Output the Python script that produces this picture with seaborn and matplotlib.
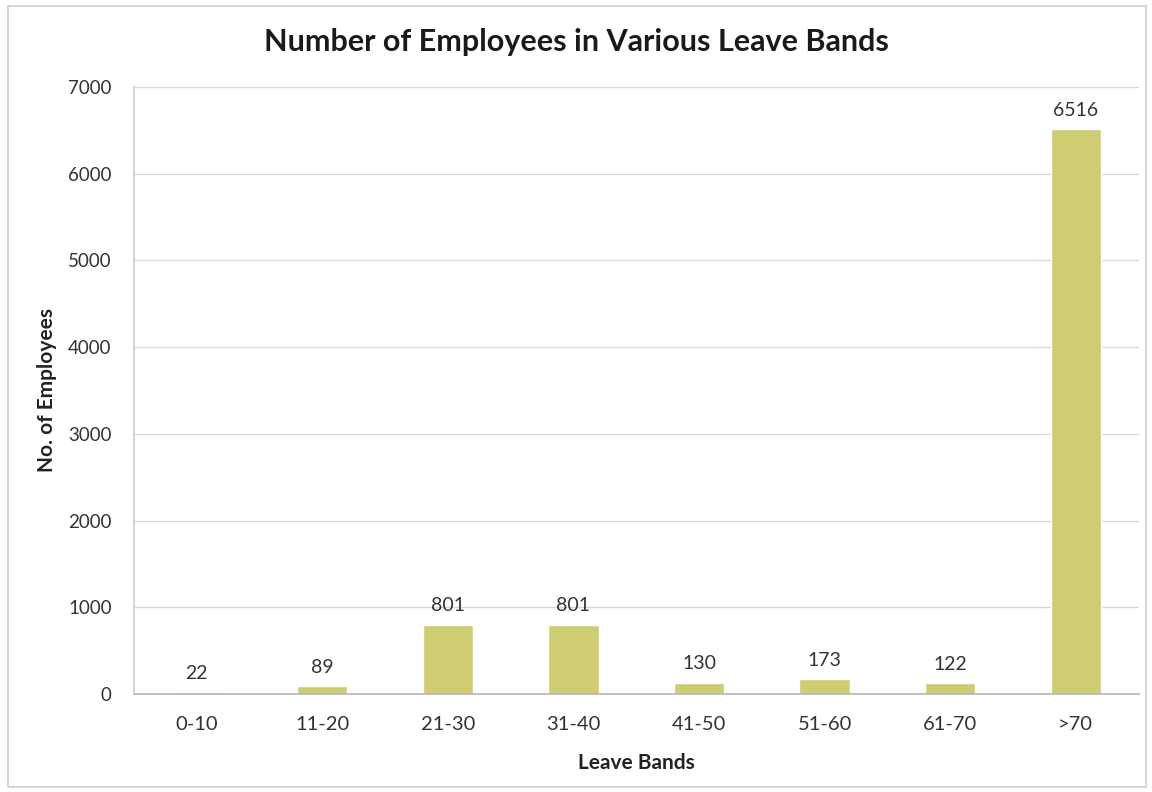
import matplotlib
matplotlib.use("Agg")
import matplotlib.pyplot as plt
from matplotlib.patches import Rectangle
import seaborn as sns
import pandas as pd

bands = ["0-10", "11-20", "21-30", "31-40", "41-50", "51-60", "61-70", ">70"]
employees = [22, 89, 801, 801, 130, 173, 122, 6516]

title = "Number of Employees in Various Leave Bands"
x_label = "Leave Bands"
y_label = "No. of Employees"

sns.set_theme(style="white")
plt.rcParams["font.family"] = ["Lato", "DejaVu Sans"]

df = pd.DataFrame({"band": bands, "count": employees})

fig = plt.figure(figsize=(11.52, 7.92), dpi=100)
ax = fig.add_axes([0.1163, 0.1237, 0.872, 0.7665])

sns.barplot(data=df, x="band", y="count", color="#CFCC72", saturation=1,
            width=0.4, ax=ax, order=bands)

ax.set_ylim(0, 7000)
ax.set_xlim(-0.5, len(bands) - 0.5)
ax.set_yticks(range(0, 7001, 1000))
ax.yaxis.grid(True, color="#D5D8E2", linewidth=1.0)
ax.set_axisbelow(True)

for s in ["top", "right"]:
    ax.spines[s].set_visible(False)
ax.spines["left"].set_color("#D0D0D0")
ax.spines["bottom"].set_color("#B8B8B8")

# category boundary ticks on the x axis
ax.set_xticks([i - 0.5 for i in range(len(bands) + 1)], minor=True)
ax.tick_params(axis="x", which="minor", length=5, color="#B8B8B8", width=1, direction="out")
ax.tick_params(axis="x", which="major", length=0, labelsize=14.5, colors="#333333", pad=16)
ax.tick_params(axis="y", length=0, labelsize=13.5, colors="#333333", pad=16)

for i, v in enumerate(employees):
    ax.text(i, v + 120, str(v), ha="center", va="bottom", fontsize=14, color="#333333")

ax.set_xlabel(x_label, fontsize=15, fontweight="bold", color="#222222", labelpad=14)
ax.set_ylabel(y_label, fontsize=15, fontweight="bold", color="#222222")
ax.yaxis.set_label_coords(-0.077, 0.5)

fig.text(0.5, 0.947, title, ha="center", va="center", fontsize=22,
         fontweight="bold", color="#1a1a1a")

fig.patches.append(Rectangle((0.007, 0.006), 0.988, 0.987, transform=fig.transFigure,
                             fill=False, edgecolor="#D0D0D0", linewidth=1.2))

fig.savefig("out.png", dpi=100, facecolor="white")
